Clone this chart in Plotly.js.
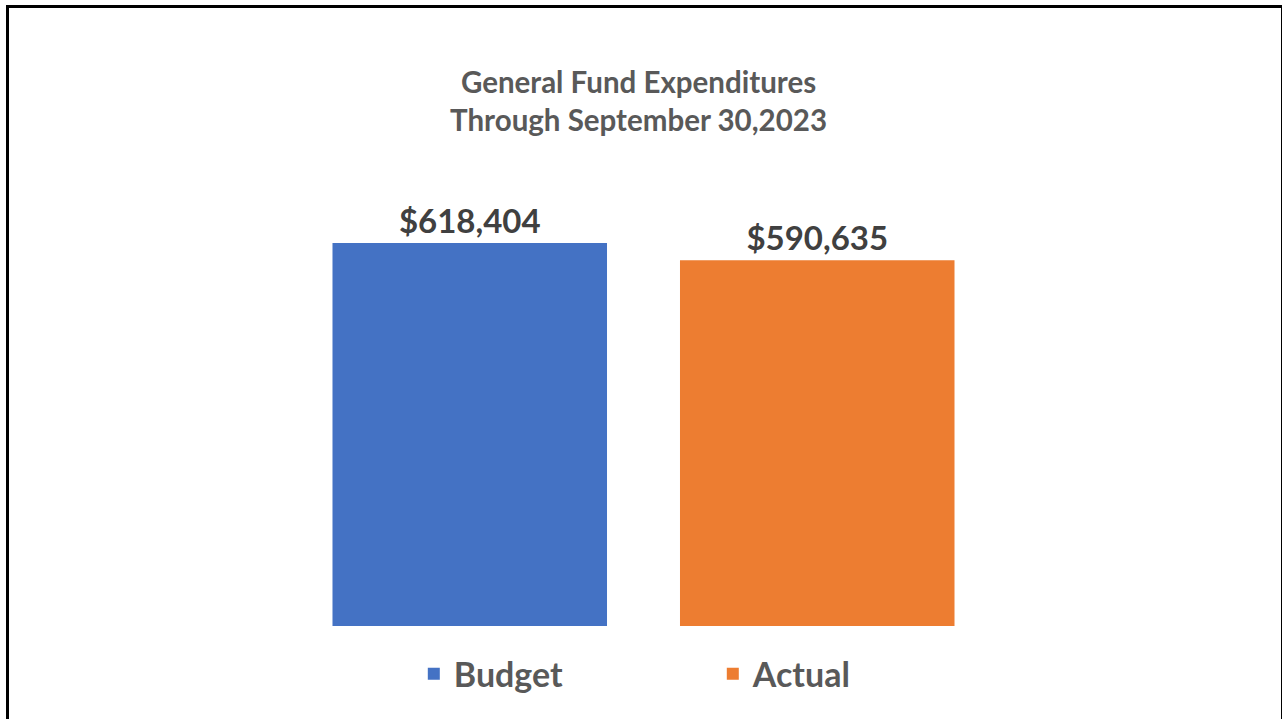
<!DOCTYPE html>
<html>
<head>
<meta charset="utf-8">
<script src="https://cdn.plot.ly/plotly-3.0.1.min.js"></script>
<style>
  html, body { margin: 0; padding: 0; background: #fff; }
  #wrap { position: relative; width: 1284px; height: 719px; overflow: hidden; }
  #chart { position: absolute; left: 0; top: 0; width: 1284px; height: 719px; }
  #frame { position: absolute; left: 6px; top: 5px; width: 1276px; height: 720px;
           border-left: 3px solid #000; border-top: 3px solid #000; border-right: 1.5px solid #000;
           box-sizing: border-box; pointer-events: none; }
</style>
</head>
<body>
<div id="wrap">
  <div id="chart"></div>
  <div id="frame"></div>
</div>
<script>
const seriesNames = ["Budget", "Actual"];
const seriesValues = [618404, 590635];
const seriesColors = ["#4472C4", "#ED7D31"];
const titleLines = ["General Fund Expenditures", "Through September 30,2023"];

const FONT = "Lato, 'Open Sans', sans-serif";

const traces = seriesNames.map((name, i) => ({
  type: "bar",
  name: name,
  x: [name],
  y: [seriesValues[i]],
  marker: { color: seriesColors[i] },
  texttemplate: "$%{y:,}",
  textposition: "outside",
  cliponaxis: false,
  textfont: { family: FONT, size: 33, weight: "bold", color: "#404040" },
  hoverinfo: "none"
}));

const layout = {
  width: 1284,
  height: 719,
  paper_bgcolor: "#ffffff",
  plot_bgcolor: "#ffffff",
  margin: { l: 295.5, r: 292.5, t: 180, b: 93, pad: 0 },
  barmode: "relative",
  bargap: 0.21,
  title: {
    text: titleLines.join("<br>"),
    font: { family: FONT, size: 29.5, weight: "bold", color: "#595959" },
    x: 0.4973, xref: "container", xanchor: "center",
    y: 1 - 93 / 719, yref: "container", yanchor: "middle"
  },
  xaxis: { showticklabels: false, showgrid: false, zeroline: false, showline: false, ticks: "", fixedrange: true },
  yaxis: { visible: false, range: [0, 720000], showgrid: false, zeroline: false, fixedrange: true },
  showlegend: true,
  legend: {
    orientation: "h",
    x: 0.1695, xanchor: "left",
    y: -0.108, yanchor: "middle",
    font: { family: FONT, size: 34, weight: "bold", color: "#595959" },
    entrywidth: 254, entrywidthmode: "pixels",
    itemclick: false, itemdoubleclick: false
  }
};

Plotly.newPlot("chart", traces, layout, { displayModeBar: false, staticPlot: true });
</script>
</body>
</html>
